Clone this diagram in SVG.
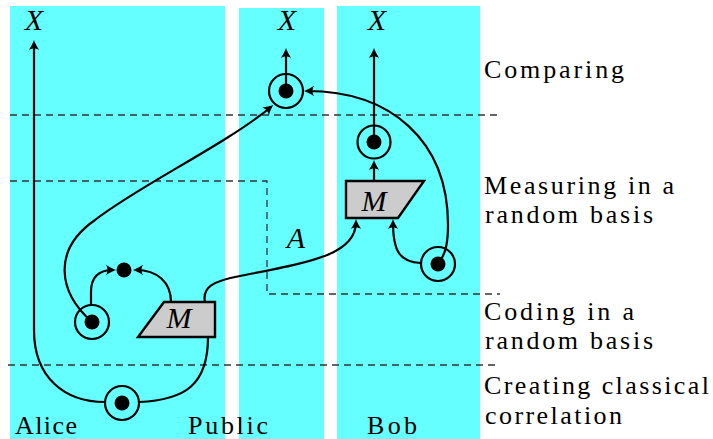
<svg xmlns="http://www.w3.org/2000/svg" width="713" height="439" viewBox="0 0 713 439">
<style>
.panel{fill:#66ffff;stroke:none}
.dash{fill:none;stroke:#333;stroke-width:1.3;stroke-dasharray:7 5}
.conn{fill:none;stroke:#000;stroke-width:2.2}
.ring{fill:none;stroke:#000;stroke-width:2.2}
.dot{fill:#000}
.box{fill:#cccccc;stroke:#000;stroke-width:2.4;stroke-linejoin:miter}
text{font-family:'Liberation Serif','Times New Roman',serif}
.lbl{font-size:26px;fill:#000}
.it{font-size:30px;font-style:italic;fill:#000;text-anchor:middle}
</style>
<defs>
<marker id="ah" markerUnits="userSpaceOnUse" markerWidth="16" markerHeight="16" viewBox="-10 -8 16 16" refX="0" refY="0" orient="auto" overflow="visible">
<path d="M3,0 C0,-1 -4,-3 -7,-5.2 C-5,-2 -5,2 -7,5.2 C-4,3 0,1 3,0 Z" fill="#000"/>
</marker>
</defs>
<g id="panels">
<rect class="panel" x="10" y="6" width="215" height="433"/>
<rect class="panel" x="239" y="8" width="85" height="431"/>
<rect class="panel" x="337" y="6" width="143" height="433"/>
</g>
<g id="separators">
<line class="dash" x1="10" y1="115" x2="500" y2="115"/>
<polyline class="dash" points="10,181 267,181 267,294 500,294"/>
<line class="dash" x1="8" y1="365" x2="500" y2="365"/>
</g>
<g id="stage-labels">
<text class="lbl" font-family="Liberation Serif" x="484" y="78" textLength="140" lengthAdjust="spacing">Comparing</text>
<text class="lbl" font-family="Liberation Serif" x="484" y="194" textLength="190" lengthAdjust="spacing">Measuring in a</text>
<text class="lbl" font-family="Liberation Serif" x="485" y="223" textLength="168" lengthAdjust="spacing">random basis</text>
<text class="lbl" font-family="Liberation Serif" x="484" y="320" textLength="150" lengthAdjust="spacing">Coding in a</text>
<text class="lbl" font-family="Liberation Serif" x="485" y="349" textLength="168" lengthAdjust="spacing">random basis</text>
<text class="lbl" font-family="Liberation Serif" x="484" y="394" textLength="225" lengthAdjust="spacing">Creating classical</text>
<text class="lbl" font-family="Liberation Serif" x="485" y="424" textLength="137" lengthAdjust="spacing">correlation</text>
</g>
<g id="party-labels">
<text class="lbl" font-family="Liberation Serif" x="15" y="434" textLength="62" lengthAdjust="spacing">Alice</text>
<text class="lbl" font-family="Liberation Serif" x="188" y="434" textLength="80" lengthAdjust="spacing">Public</text>
<text class="lbl" font-family="Liberation Serif" x="367" y="434" textLength="50" lengthAdjust="spacing">Bob</text>
</g>
<g id="outputs">
<text class="it" font-family="Liberation Serif" x="34" y="30">X</text>
<text class="it" font-family="Liberation Serif" x="287" y="30">X</text>
<text class="it" font-family="Liberation Serif" x="377" y="30">X</text>
<text class="it" font-family="Liberation Serif" x="296" y="248">A</text>
</g>
<g id="connectors">
<path class="conn" marker-end="url(#ah)" d="M105,402 C65,402 34,378 34,330 L34,43"/>
<path class="conn" d="M139,402 C185,400 208,385 208,337"/>
<path class="conn" marker-end="url(#ah)" d="M91,305 L91,292 C91,277 99,270 113,270"/>
<path class="conn" marker-end="url(#ah)" d="M171,302 C171,282 157,270 136,270"/>
<path class="conn" marker-end="url(#ah)" d="M92,322 C58,292 52,250 95,220 C140,185 225,145 271,107"/>
<path class="conn" marker-end="url(#ah)" d="M205,302 C202,288 212,281 240,276 C310,262 356,255 356,222"/>
<path class="conn" marker-end="url(#ah)" d="M286,91 L286,51"/>
<path class="conn" marker-end="url(#ah)" d="M374,142 L374,51"/>
<path class="conn" marker-end="url(#ah)" d="M374,181 L374,163"/>
<path class="conn" marker-end="url(#ah)" d="M438,264 C446,254 448,242 448,225 C448,140 390,91 307,91"/>
<path class="conn" marker-end="url(#ah)" d="M421,263 C400,262 393,252 393,222"/>
</g>
<g id="alice-source">
<circle class="ring" cx="122" cy="403" r="17"/>
<circle class="dot" cx="122" cy="403" r="7.5"/>
</g>
<g id="alice-qubit">
<circle class="ring" cx="92" cy="322" r="17"/>
<circle class="dot" cx="92" cy="322" r="7.5"/>
</g>
<g id="alice-basis">
<circle class="dot" cx="124" cy="270" r="7.5"/>
</g>
<g id="alice-measure">
<polygon class="box" points="164,302 215,302 215,337 138,337"/>
<text class="it" font-family="Liberation Serif" x="179" y="328">M</text>
</g>
<g id="public-compare">
<circle class="ring" cx="286" cy="91" r="17"/>
<circle class="dot" cx="286" cy="91" r="7.5"/>
</g>
<g id="bob-measure">
<polygon class="box" points="346,181 424,181 398,218 346,218"/>
<text class="it" font-family="Liberation Serif" x="374" y="211">M</text>
</g>
<g id="bob-result">
<circle class="ring" cx="374" cy="142" r="16.5"/>
<circle class="dot" cx="374" cy="142" r="7.5"/>
</g>
<g id="bob-basis">
<circle class="ring" cx="438" cy="264" r="17"/>
<circle class="dot" cx="438" cy="264" r="7.5"/>
</g>
</svg>
